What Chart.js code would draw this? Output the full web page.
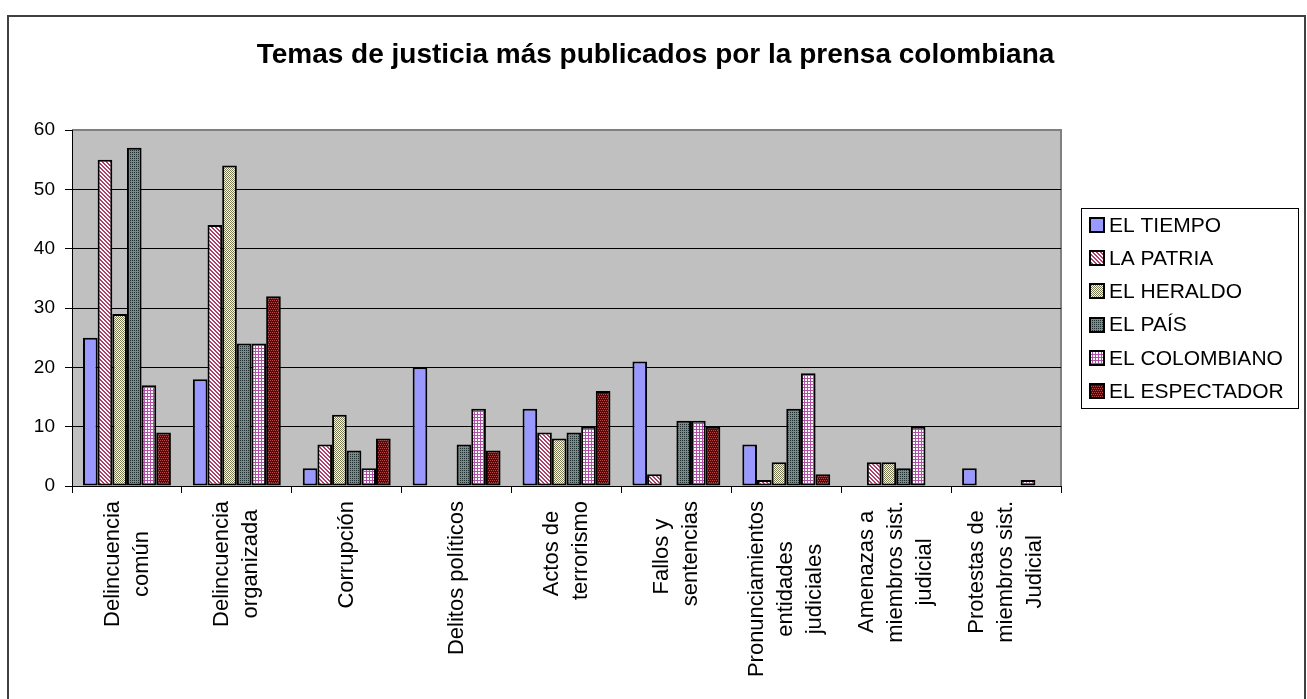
<!DOCTYPE html>
<html>
<head>
<meta charset="utf-8">
<script src="https://cdn.jsdelivr.net/npm/chart.js@4.4.1/dist/chart.umd.min.js"></script>
<style>
  html, body { margin: 0; padding: 0; background: #fff; }
</style>
</head>
<body>
<canvas id="prensaChart" width="1307" height="699"></canvas>
<script>
// categorias (ejes) y series
const titulo = 'Temas de justicia más publicados por la prensa colombiana';
const temas = [
    ['Delincuencia', 'común'],
    ['Delincuencia', 'organizada'],
    'Corrupción',
    'Delitos políticos',
    ['Actos de ', 'terrorismo'],
    ['Fallos y ', 'sentencias'],
    ['Pronunciamientos', 'entidades', 'judiciales'],
    ['Amenazas a', 'miembros sist.', 'judicial'],
    ['Protestas de', 'miembros sist.', 'Judicial']
];
const periodicos = ['EL TIEMPO', 'LA PATRIA', 'EL HERALDO', 'EL PAÍS', 'EL COLOMBIANO', 'EL ESPECTADOR'];

const elTiempo     = [25, 18, 3, 20, 13, 21, 7, null, 3];
const laPatria     = [55, 44, 7, null, 9, 2, 1, 4, null];
const elHeraldo    = [29, 54, 12, null, 8, null, 4, 4, null];
const elPais       = [57, 24, 6, 7, 9, 11, 13, 3, null];
const elColombiano = [17, 24, 3, 13, 10, 11, 19, 10, 1];
const elEspectador = [9, 32, 8, 6, 16, 10, 2, null, null];

const yMin = 0;
const yMax = 60;
const yStep = 10;

const FONT = '"Liberation Sans", Arial, sans-serif';

// tramas tipo Excel
function makePattern(size, bg, fg, cells) {
    const c = document.createElement('canvas');
    c.width = size;
    c.height = size;
    const g = c.getContext('2d');
    g.fillStyle = bg;
    g.fillRect(0, 0, size, size);
    g.fillStyle = fg;
    cells.forEach(function (p) {
      g.fillRect(p[0], p[1], 1, 1);
    });
    return g.createPattern(c, 'repeat');
}

function gridCells(size) {
    const out = [];
    for (let i = 0; i < size; i++) {
      out.push([i, 0]);
      if (i > 0) out.push([0, i]);
    }
    return out;
}

const fills = [
    '#9999FF',
    makePattern(4, '#FFFFFF', '#B0406A', [[0, 0], [1, 1], [2, 2], [3, 3], [1, 0], [2, 1], [3, 2], [0, 3]]),
    makePattern(2, '#FFFFCC', '#7A7A55', [[0, 0], [1, 1]]),
    makePattern(2, '#6E8F8C', '#1E2E2E', [[0, 0]]),
    makePattern(3, '#FFFFFF', '#B050A8', gridCells(3)),
    makePattern(4, '#520A0A', '#B84848', [[0, 0], [2, 0], [1, 2], [3, 2]])
];

const series = [elTiempo, laPatria, elHeraldo, elPais, elColombiano, elEspectador];

const frameAndBackground = {
    id: 'frameAndBackground',
    beforeDraw(chart) {
      const ctx = chart.ctx;
      const a = chart.chartArea;
      ctx.save();
      ctx.fillStyle = '#FFFFFF';
      ctx.fillRect(0, 0, chart.width, chart.height);
      ctx.fillStyle = '#C0C0C0';
      ctx.fillRect(a.left, a.top, a.right - a.left, a.bottom - a.top);
      ctx.strokeStyle = '#808080';
      ctx.lineWidth = 2;
      ctx.beginPath();
      ctx.moveTo(a.left, a.top);
      ctx.lineTo(a.right, a.top);
      ctx.lineTo(a.right, a.bottom);
      ctx.stroke();
      // marco exterior
      ctx.strokeStyle = '#404040';
      ctx.lineWidth = 2;
      ctx.beginPath();
      ctx.moveTo(8, chart.height + 5);
      ctx.lineTo(8, 16);
      ctx.lineTo(chart.width - 2, 16);
      ctx.lineTo(chart.width - 2, chart.height + 5);
      ctx.stroke();
      // titulo centrado en todo el lienzo
      ctx.fillStyle = '#000';
      ctx.font = 'bold 28px ' + FONT;
      ctx.textAlign = 'center';
      ctx.textBaseline = 'middle';
      ctx.fillText(titulo, chart.width / 2 + 2, 55);
      ctx.restore();
    }
};

const categoryLabels = {
    id: 'categoryLabels',
    afterDraw(chart) {
      const ctx = chart.ctx;
      const xs = chart.scales.x;
      const top = xs.top + 15;
      const lineH = 29;
      ctx.save();
      ctx.font = '22px ' + FONT;
      ctx.fillStyle = '#000';
      ctx.textAlign = 'center';
      ctx.textBaseline = 'middle';
      chart.data.labels.forEach(function (lab, i) {
        const lines = Array.isArray(lab) ? lab : [lab];
        const x = xs.getPixelForValue(i);
        const maxW = Math.max.apply(null, lines.map(function (l) { return ctx.measureText(l).width; }));
        ctx.save();
        ctx.translate(x, top);
        ctx.rotate(-Math.PI / 2);
        lines.forEach(function (l, j) {
          ctx.fillText(l, -maxW / 2, (j - (lines.length - 1) / 2) * lineH);
        });
        ctx.restore();
      });
      ctx.restore();
    }
};

const boxedLegend = {
    id: 'boxedLegend',
    afterDraw(chart) {
      const ctx = chart.ctx;
      const a = chart.chartArea;
      const sets = chart.data.datasets;
      const rowH = 33.3;
      const lw = 217;
      const lh = rowH * sets.length;
      const lx = a.right + 20;
      const ly = (a.top + a.bottom) / 2 - lh / 2;
      ctx.save();
      ctx.strokeStyle = '#000';
      ctx.lineWidth = 1;
      ctx.strokeRect(Math.round(lx) + 0.5, Math.round(ly) + 0.5, lw, Math.round(lh));
      ctx.font = '21px ' + FONT;
      ctx.textBaseline = 'middle';
      ctx.textAlign = 'left';
      sets.forEach(function (ds, i) {
        const cy = ly + rowH * (i + 0.5);
        const bx = Math.round(lx + 9);
        const by = Math.round(cy - 7);
        ctx.fillStyle = ds.backgroundColor;
        ctx.fillRect(bx, by, 14, 14);
        ctx.lineWidth = 2;
        ctx.strokeStyle = '#000';
        ctx.strokeRect(bx, by, 14, 14);
        ctx.fillStyle = '#000';
        ctx.fillText(ds.label, lx + 28, cy + 1);
      });
      ctx.restore();
    }
};

Chart.defaults.font.family = FONT;
Chart.defaults.color = '#000';

new Chart(document.getElementById('prensaChart'), {
    type: 'bar',
    data: {
      labels: temas,
      datasets: periodicos.map(function (name, i) {
        return {
          label: name,
          data: series[i],
          backgroundColor: fills[i],
          borderColor: '#000',
          borderWidth: 2,
          borderSkipped: false,
          categoryPercentage: 0.8,
          barPercentage: 1.0
        };
      })
    },
    options: {
      responsive: false,
      animation: false,
      layout: { padding: { left: 0, right: 246, top: 130, bottom: 0 } },
      plugins: {
        legend: { display: false },
        tooltip: { enabled: false },
        title: { display: false }
      },
      scales: {
        x: {
          grid: {
            offset: true,
            drawOnChartArea: false,
            drawTicks: true,
            tickLength: 7,
            color: '#000'
          },
          border: { color: '#000', width: 1 },
          ticks: { display: false },
          afterFit: function (scale) { scale.height = 213; }
        },
        y: {
          min: yMin,
          max: yMax,
          grid: {
            color: function (c) { return c.tick && c.tick.value === yMax ? '#808080' : '#000'; },
            tickColor: '#000',
            tickLength: 7,
            lineWidth: 1
          },
          border: { color: '#000', width: 1 },
          ticks: {
            stepSize: yStep,
            padding: 10,
            font: { size: 19, family: FONT },
            color: '#000'
          },
          afterFit: function (scale) { scale.width = 72; }
        }
      }
    },
    plugins: [frameAndBackground, categoryLabels, boxedLegend]
});
</script>
</body>
</html>
